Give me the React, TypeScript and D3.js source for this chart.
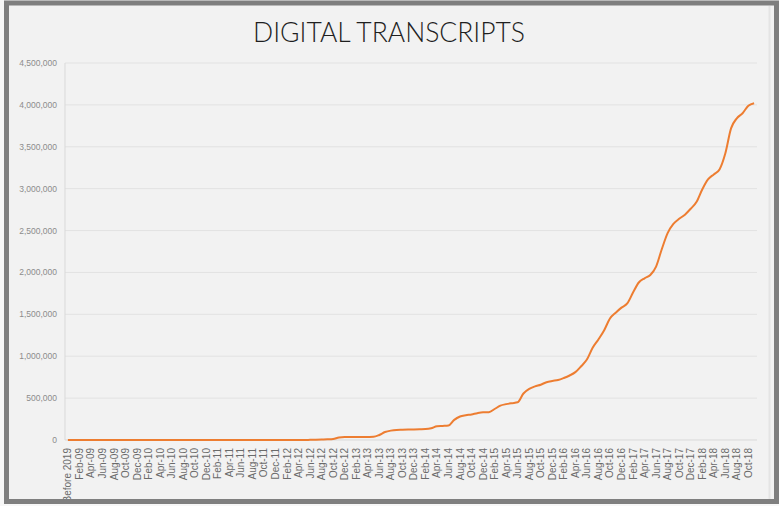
import React from "react";
import * as d3 from "d3";

const months = ["Jan","Feb","Mar","Apr","May","Jun","Jul","Aug","Sep","Oct","Nov","Dec"];
const years = ["09","10","11","12","13","14","15","16","17","18"];

const categories: string[] = ["Before 2019"];
years.forEach((y) => months.forEach((m) => categories.push(`${m}-${y}`)));
categories.splice(120); // Before 2019 .. Nov-18

// thousands of transcripts per category
const transcripts: number[] = [
  0,
  0,0,0,0,0,0,0,0,0,0,0,0,            // 2009
  0,0,0,0,0,0,0,0,0,0,0,0,            // 2010
  0,0,0,0,0,0,0,0,0,0,0,0,            // 2011
  0,0,0,0,0,2,4,6,8,12,30,35,          // 2012
  35,36,36,37,38,60,95,112,120,122,124,126, // 2013
  128,130,140,165,168,172,240,280,295,305,320,330, // 2014
  332,370,410,428,440,450,555,610,640,660,690,705, // 2015
  716,740,770,810,880,960,1100,1200,1310,1450,1520,1580, // 2016
  1630,1760,1880,1930,1970,2070,2280,2470,2580,2640,2690,2760, // 2017
  2840,2990,3110,3170,3230,3420,3720,3840,3900,3990,4020, // 2018
];

const yTicks = [0, 500000, 1000000, 1500000, 2000000, 2500000, 3000000, 3500000, 4000000, 4500000];

const W = 779;
const H = 506;
const plot = { left: 65, right: 757, top: 63, bottom: 440 };

export default function App() {
  const x = d3
    .scalePoint<string>()
    .domain(categories)
    .range([plot.left, plot.right])
    .padding(0.5);
  const y = d3.scaleLinear().domain([0, 4500000]).range([plot.bottom, plot.top]);
  const fmt = d3.format(",");

  const line = d3
    .line<number>()
    .x((_, i) => x(categories[i]) as number)
    .y((d) => y(d * 1000))
    .curve(d3.curveMonotoneX);

  const labelFont = "'Liberation Sans', Arial, sans-serif";

  return (
    <svg
      width={W}
      height={H}
      style={{ position: "absolute", left: 0, top: 0, background: "#f7f7f7" }}
    >
      <defs>
        <clipPath id="inner">
          <rect x={9} y={5} width={765} height={494} />
        </clipPath>
      </defs>
      <rect x={6.5} y={3} width={770} height={498.5} fill="#f2f2f2" stroke="#7f7f7f" strokeWidth={5} />
      <line x1={769.5} y1={6} x2={769.5} y2={499} stroke="#e4e4e4" strokeWidth={2} />
      <text
        x={389}
        y={42}
        textAnchor="middle"
        fontFamily="Lato, 'Open Sans', sans-serif"
        fontWeight={300}
        fontSize={28}
        fill="#1f1f1f"
        textLength={272}
        lengthAdjust="spacingAndGlyphs"
      >
        DIGITAL TRANSCRIPTS
      </text>
      {yTicks.map((t) => (
        <g key={t}>
          {t > 0 && (
            <line x1={plot.left} x2={plot.right} y1={y(t)} y2={y(t)} stroke="#e2e2e2" strokeWidth={1} />
          )}
          <text
            x={57}
            y={y(t)}
            dy="0.35em"
            textAnchor="end"
            fontFamily={labelFont}
            fontSize={8.5}
            fill="#8c8c8c"
          >
            {fmt(t)}
          </text>
        </g>
      ))}
      <line x1={plot.left} x2={plot.left} y1={plot.top} y2={plot.bottom} stroke="#d9d9d9" strokeWidth={1} />
      <line x1={plot.left} x2={plot.right} y1={plot.bottom} y2={plot.bottom} stroke="#d9d9d9" strokeWidth={1} />
      <g clipPath="url(#inner)">
        {categories.map((c, i) =>
          i % 2 === 0 ? (
            <text
              key={c}
              transform={`translate(${(x(c) as number) + 3.5},448) rotate(-90)`}
              textAnchor="end"
              fontFamily={labelFont}
              fontSize={10}
              fill="#6a6a6a"
            >
              {c}
            </text>
          ) : null
        )}
      </g>
      <path d={line(transcripts) || ""} fill="none" stroke="#ed7d31" strokeWidth={2} strokeLinejoin="round" />
    </svg>
  );
}
